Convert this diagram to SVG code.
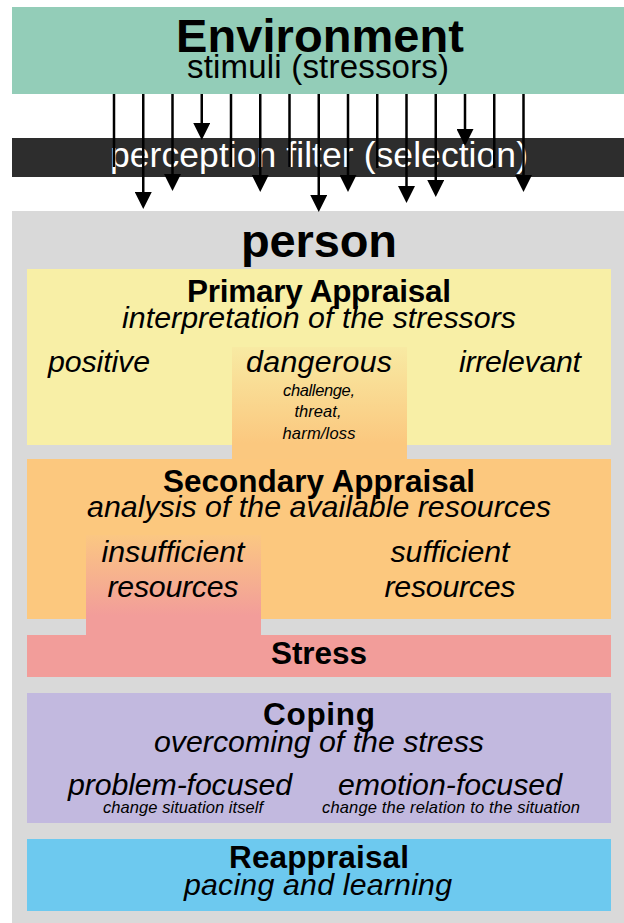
<svg xmlns="http://www.w3.org/2000/svg" width="624" height="923" viewBox="0 0 624 923">
  <defs>
    <marker id="ah" markerUnits="userSpaceOnUse" viewBox="0 0 17 17" markerWidth="17" markerHeight="17" refX="13" refY="8.5" orient="auto">
      <path d="M0,0 L17,8.5 L0,17 Z" fill="#000"/>
    </marker>
    <linearGradient id="gDanger" x1="0" y1="0" x2="0" y2="1">
      <stop offset="0" stop-color="#f8eaa3"/>
      <stop offset="0.85" stop-color="#fbc87f"/>
      <stop offset="1" stop-color="#fbc87f"/>
    </linearGradient>
    <linearGradient id="gInsuff" x1="0" y1="0" x2="0" y2="1">
      <stop offset="0" stop-color="#fbc782"/>
      <stop offset="0.8" stop-color="#f29d9a"/>
      <stop offset="1" stop-color="#f29d9a"/>
    </linearGradient>
  </defs>
  <style>
    text { font-family: "Liberation Sans", Arial, sans-serif; fill: #000; text-anchor: middle; }
    .title { font-weight: bold; font-size: 31.5px; }
    .sub { font-style: italic; font-size: 30.3px; }
    .item { font-style: italic; font-size: 30.3px; }
    .small { font-style: italic; font-size: 16.5px; }
    .conn line { stroke: #000; stroke-width: 2.5; fill: none; }
    .conn line.h { marker-end: url(#ah); }
  </style>

  <rect x="0" y="0" width="624" height="923" fill="#ffffff"/>

  <g id="environment">
    <rect x="12" y="7" width="612" height="87" fill="#93cdb8"/>
    <text x="320" y="52" style="font-weight:bold;font-size:47px" textLength="288" lengthAdjust="spacing">Environment</text>
    <text x="318" y="78" style="font-size:33px" textLength="262" lengthAdjust="spacing">stimuli (stressors)</text>
  </g>

  <g id="person">
    <rect x="12" y="211" width="612" height="712" fill="#d9d9d9"/>
    <text x="319" y="257" style="font-weight:bold;font-size:47px" textLength="156" lengthAdjust="spacing">person</text>
  </g>

  <g id="primary-appraisal">
    <rect x="27" y="269" width="584" height="176" fill="#f8efa6"/>
    <text class="title" x="319" y="302" textLength="264" lengthAdjust="spacing">Primary Appraisal</text>
    <text class="sub" x="319" y="328" textLength="394" lengthAdjust="spacing">interpretation of the stressors</text>
    <text class="item" x="99" y="372" textLength="102" lengthAdjust="spacing">positive</text>
    <text class="item" x="520" y="372" textLength="122" lengthAdjust="spacing">irrelevant</text>
  </g>

  <g id="dangerous">
    <rect x="232" y="347" width="175" height="113" fill="url(#gDanger)"/>
    <text class="item" x="319" y="372" textLength="146" lengthAdjust="spacing">dangerous</text>
    <text class="small" x="319" y="396" textLength="72" lengthAdjust="spacing">challenge,</text>
    <text class="small" x="318" y="417" textLength="47" lengthAdjust="spacing">threat,</text>
    <text class="small" x="319" y="439" textLength="73" lengthAdjust="spacing">harm/loss</text>
  </g>

  <g id="secondary-appraisal">
    <rect x="27" y="459" width="584" height="160" fill="#fcc87e"/>
    <text class="title" x="319" y="492" textLength="312" lengthAdjust="spacing">Secondary Appraisal</text>
    <text class="sub" x="319" y="517" textLength="464" lengthAdjust="spacing">analysis of the available resources</text>
    <text class="item" x="450" y="562" textLength="119" lengthAdjust="spacing">sufficient</text>
    <text class="item" x="450" y="597" textLength="131" lengthAdjust="spacing">resources</text>
  </g>

  <g id="insufficient">
    <rect x="86" y="535" width="175" height="101" fill="url(#gInsuff)"/>
    <text class="item" x="173" y="562" textLength="143" lengthAdjust="spacing">insufficient</text>
    <text class="item" x="173" y="597" textLength="131" lengthAdjust="spacing">resources</text>
  </g>

  <g id="stress">
    <rect x="27" y="635" width="584" height="42" fill="#f29d9a"/>
    <text class="title" x="319" y="664" textLength="96" lengthAdjust="spacing">Stress</text>
  </g>

  <g id="coping">
    <rect x="27" y="693" width="584" height="130" fill="#c2b9df"/>
    <text class="title" x="319" y="725" textLength="112" lengthAdjust="spacing">Coping</text>
    <text class="sub" x="319" y="752" textLength="330" lengthAdjust="spacing">overcoming of the stress</text>
    <text class="item" x="180" y="795" textLength="224" lengthAdjust="spacing">problem-focused</text>
    <text class="small" x="183" y="813" textLength="160" lengthAdjust="spacing">change situation itself</text>
    <text class="item" x="450" y="795" textLength="224" lengthAdjust="spacing">emotion-focused</text>
    <text class="small" x="451" y="813" textLength="258" lengthAdjust="spacing">change the relation to the situation</text>
  </g>

  <g id="reappraisal">
    <rect x="27" y="839" width="584" height="72" fill="#6dc9ef"/>
    <text class="title" x="319" y="868" textLength="180" lengthAdjust="spacing">Reappraisal</text>
    <text class="sub" x="318" y="895" textLength="268" lengthAdjust="spacing">pacing and learning</text>
  </g>

  <g id="perception-filter">
    <rect x="12" y="138" width="612" height="39" fill="#2d2d2d"/>
    <text x="319" y="167" style="font-size:35.5px;fill:#ffffff" textLength="418" lengthAdjust="spacing">perception filter (selection)</text>
  </g>

  <g id="connectors" class="conn">
    <line x1="114" y1="94" x2="114" y2="167"/>
    <line class="h" x1="143.25" y1="94" x2="143.25" y2="205"/>
    <line class="h" x1="172.5" y1="94" x2="172.5" y2="187"/>
    <line class="h" x1="201.75" y1="94" x2="201.75" y2="136"/>
    <line x1="231" y1="94" x2="231" y2="167"/>
    <line class="h" x1="260.25" y1="94" x2="260.25" y2="188"/>
    <line x1="289.5" y1="94" x2="289.5" y2="167"/>
    <line class="h" x1="318.75" y1="94" x2="318.75" y2="208"/>
    <line class="h" x1="348" y1="94" x2="348" y2="188"/>
    <line x1="377.25" y1="94" x2="377.25" y2="168"/>
    <line class="h" x1="406.5" y1="94" x2="406.5" y2="199"/>
    <line class="h" x1="435.75" y1="94" x2="435.75" y2="193"/>
    <line class="h" x1="465" y1="94" x2="465" y2="142"/>
    <line x1="494.25" y1="94" x2="494.25" y2="168"/>
    <line class="h" x1="523.5" y1="94" x2="523.5" y2="188"/>
  </g>
</svg>
